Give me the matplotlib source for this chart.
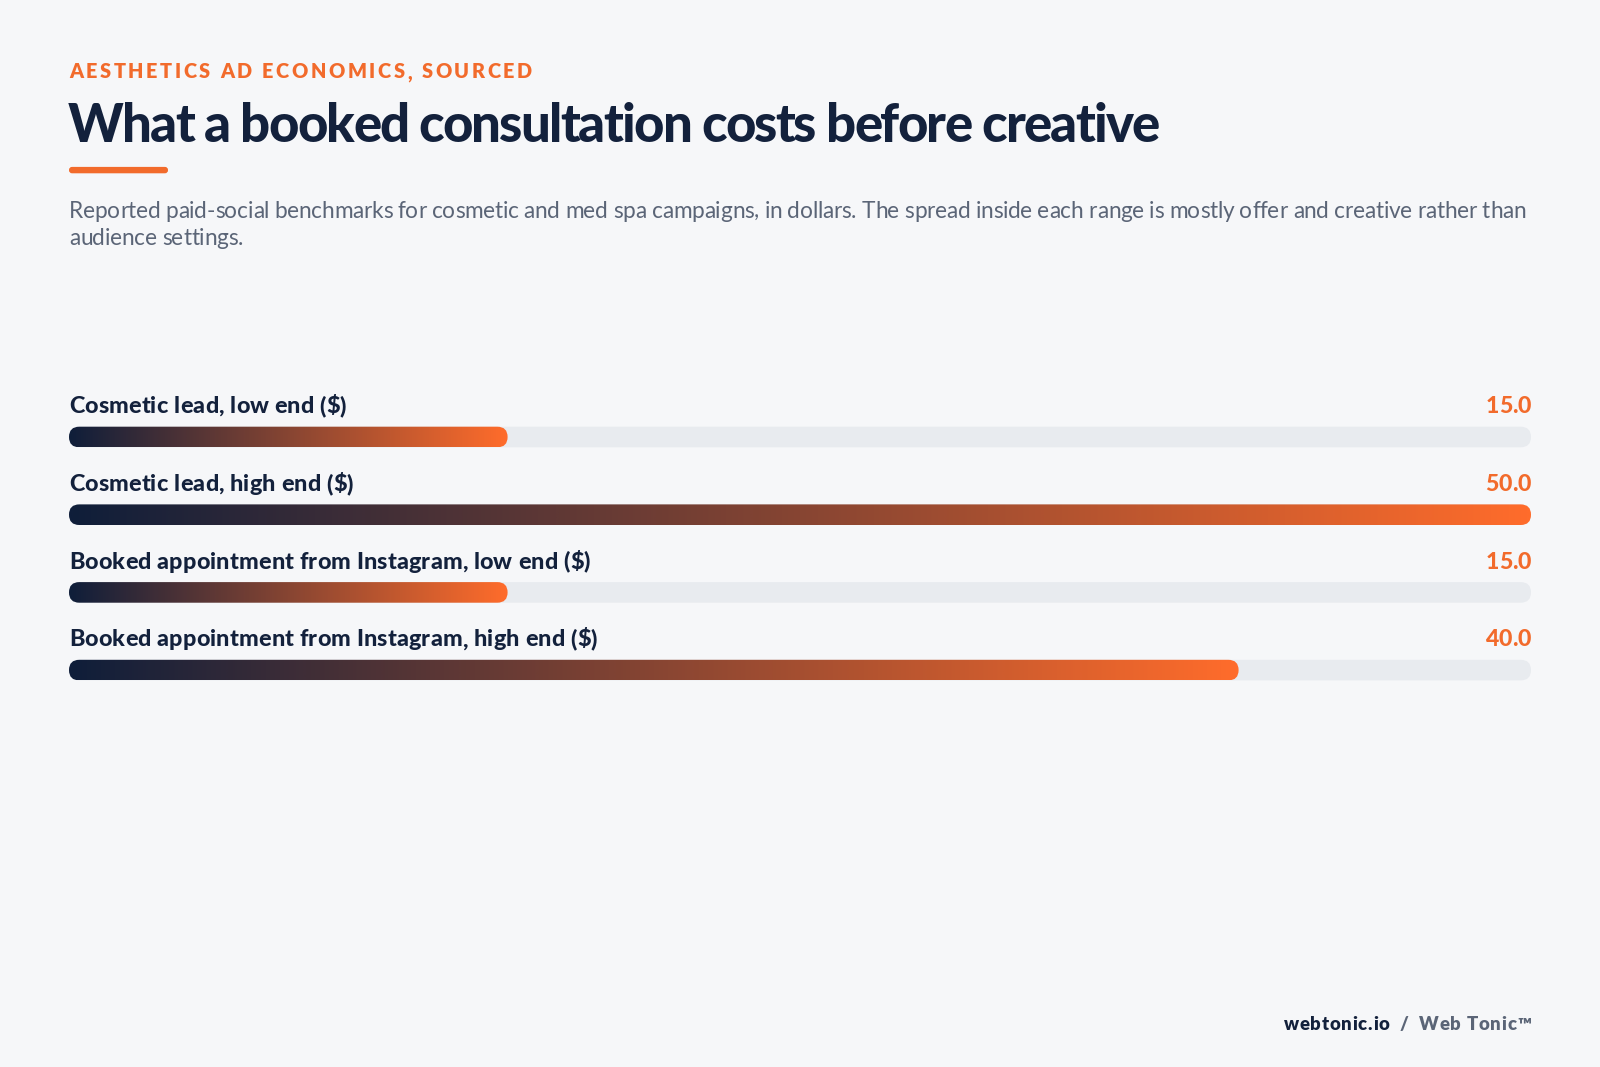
import numpy as np
import matplotlib
matplotlib.use("Agg")
import matplotlib.pyplot as plt
from matplotlib.patches import FancyBboxPatch
from matplotlib.colors import LinearSegmentedColormap
from matplotlib import font_manager as fm

# ---------------- data ----------------
categories = [
    "Cosmetic lead, low end ($)",
    "Cosmetic lead, high end ($)",
    "Booked appointment from Instagram, low end ($)",
    "Booked appointment from Instagram, high end ($)",
]
values = [15.0, 50.0, 15.0, 40.0]
x_max = 50.0

kicker = "AESTHETICS AD ECONOMICS, SOURCED"
title = "What a booked consultation costs before creative"
subtitle_lines = [
    "Reported paid-social benchmarks for cosmetic and med spa campaigns, in dollars. The spread inside each range is mostly offer and creative rather than",
    "audience settings.",
]
footer_parts = [("webtonic.io", "#13213c"), ("  /  ", "#5b6577"), ("Web Tonic\u2122", "#5b6577")]

# ---------------- style ----------------
BG = "#f6f7f9"
NAVY = "#13213c"
ORANGE = "#f26b2c"
GRAY = "#5b6577"
TRACK = "#e8ebef"


def lato(weight, size):
    path = fm.findfont(fm.FontProperties(family="Lato", weight=weight))
    return fm.FontProperties(fname=path, size=size)


W, H, DPI = 1600, 1067, 100
fig = plt.figure(figsize=(W / DPI, H / DPI), dpi=DPI, facecolor=BG)
renderer = fig.canvas.get_renderer()


def fy(py):
    return 1 - py / H


def fx(px):
    return px / W


def text_width(s, fp):
    t = fig.text(0, 0, s + "|", fontproperties=fp)
    w1 = t.get_window_extent(renderer).width
    t.remove()
    t = fig.text(0, 0, "|", fontproperties=fp)
    w2 = t.get_window_extent(renderer).width
    t.remove()
    return w1 - w2


def spaced_width(s, fp, spacing_px):
    return text_width(s, fp) + spacing_px * (len(s) - 1)


def spaced_text(x_px, y_px, s, fp, spacing_px, color, ha="left"):
    total = spaced_width(s, fp, spacing_px)
    x0 = x_px if ha == "left" else x_px - total
    for k, ch in enumerate(s):
        if ch == " ":
            continue
        off = text_width(s[:k], fp) + spacing_px * k if k else 0
        fig.text(fx(x0 + off), fy(y_px), ch, va="baseline", ha="left",
                 fontproperties=fp, color=color)
    return total


LEFT, RIGHT = 69, 1531

# kicker
fp_kicker = lato(800, 14.3)
spaced_text(LEFT, 78.3, kicker, fp_kicker, 2.6, ORANGE)

# title (tight tracking)
fp_title = lato(900, 38)
spaced_text(LEFT - 1, 142.3, title, fp_title, -1.78, NAVY)

# underline accent
fig.patches.append(FancyBboxPatch((fx(LEFT), fy(173.3)), fx(99), 6.4 / H,
                                  boxstyle="round,pad=0,rounding_size=0.0019",
                                  mutation_aspect=W / H,
                                  transform=fig.transFigure, facecolor=ORANGE,
                                  edgecolor="none"))

# subtitle
fp_sub = lato(400, 16.3)
for i, line in enumerate(subtitle_lines):
    spaced_text(LEFT, 218.3 + 26.7 * i, line, fp_sub, -0.25, GRAY)

# ---------------- bars axes ----------------
row_px = 77.7
first_center = 437.0
n = len(categories)
ax_top = first_center - row_px / 2
ax_h = row_px * n
ax = fig.add_axes([fx(LEFT), fy(ax_top + ax_h), fx(RIGHT - LEFT), ax_h / H])
ax.set_facecolor("none")
ax.set_xlim(0, x_max)
ax.set_ylim(n - 0.5, -0.5)
ax.axis("off")

bar_px = 20.6
bar_h = bar_px / row_px
x_per_px = x_max / (RIGHT - LEFT)
y_per_px = 1.0 / row_px
radius = (bar_px / 2) * x_per_px
aspect = y_per_px / x_per_px

cmap = LinearSegmentedColormap.from_list("navy_orange", ["#0f1e3a", "#ff6c2b"])
grad = np.linspace(0, 1, 512).reshape(1, -1)

fp_label = lato(900, 16.8)
fp_value = lato(900, 16.7)
label_gap_px = 13.6

for i, (cat, v) in enumerate(zip(categories, values)):
    track = FancyBboxPatch((0, i - bar_h / 2), x_max, bar_h,
                           boxstyle=f"round,pad=0,rounding_size={radius}",
                           mutation_aspect=aspect, facecolor=TRACK,
                           edgecolor="none", zorder=1)
    ax.add_patch(track)
    clip = FancyBboxPatch((0, i - bar_h / 2), v, bar_h,
                          boxstyle=f"round,pad=0,rounding_size={radius}",
                          mutation_aspect=aspect, facecolor="none",
                          edgecolor="none", zorder=2)
    ax.add_patch(clip)
    im = ax.imshow(grad, cmap=cmap, aspect="auto",
                   extent=(0, v, i + bar_h / 2, i - bar_h / 2),
                   interpolation="bilinear", zorder=2)
    im.set_clip_path(clip)
    # label and value (positioned from the bar's data coordinates)
    _, top_px = ax.transData.transform((0, i - bar_h / 2))
    base_y = H - top_px - label_gap_px
    spaced_text(LEFT, base_y, cat, fp_label, 0.15, NAVY)
    spaced_text(RIGHT, base_y, f"{v:.1f}", fp_value, 0.0, ORANGE, ha="right")

ax.set_xlim(0, x_max)
ax.set_ylim(n - 0.5, -0.5)

# footer
fp_foot = lato(800, 13.3)
sp = 0.7
widths = [spaced_width(s, fp_foot, sp) for s, _ in footer_parts]
x0 = RIGHT - (sum(widths) + sp * (len(footer_parts) - 1))
for (s, c), w in zip(footer_parts, widths):
    spaced_text(x0, 1030, s, fp_foot, sp, c)
    x0 += w + sp

fig.savefig("out.png", dpi=DPI, facecolor=BG)
